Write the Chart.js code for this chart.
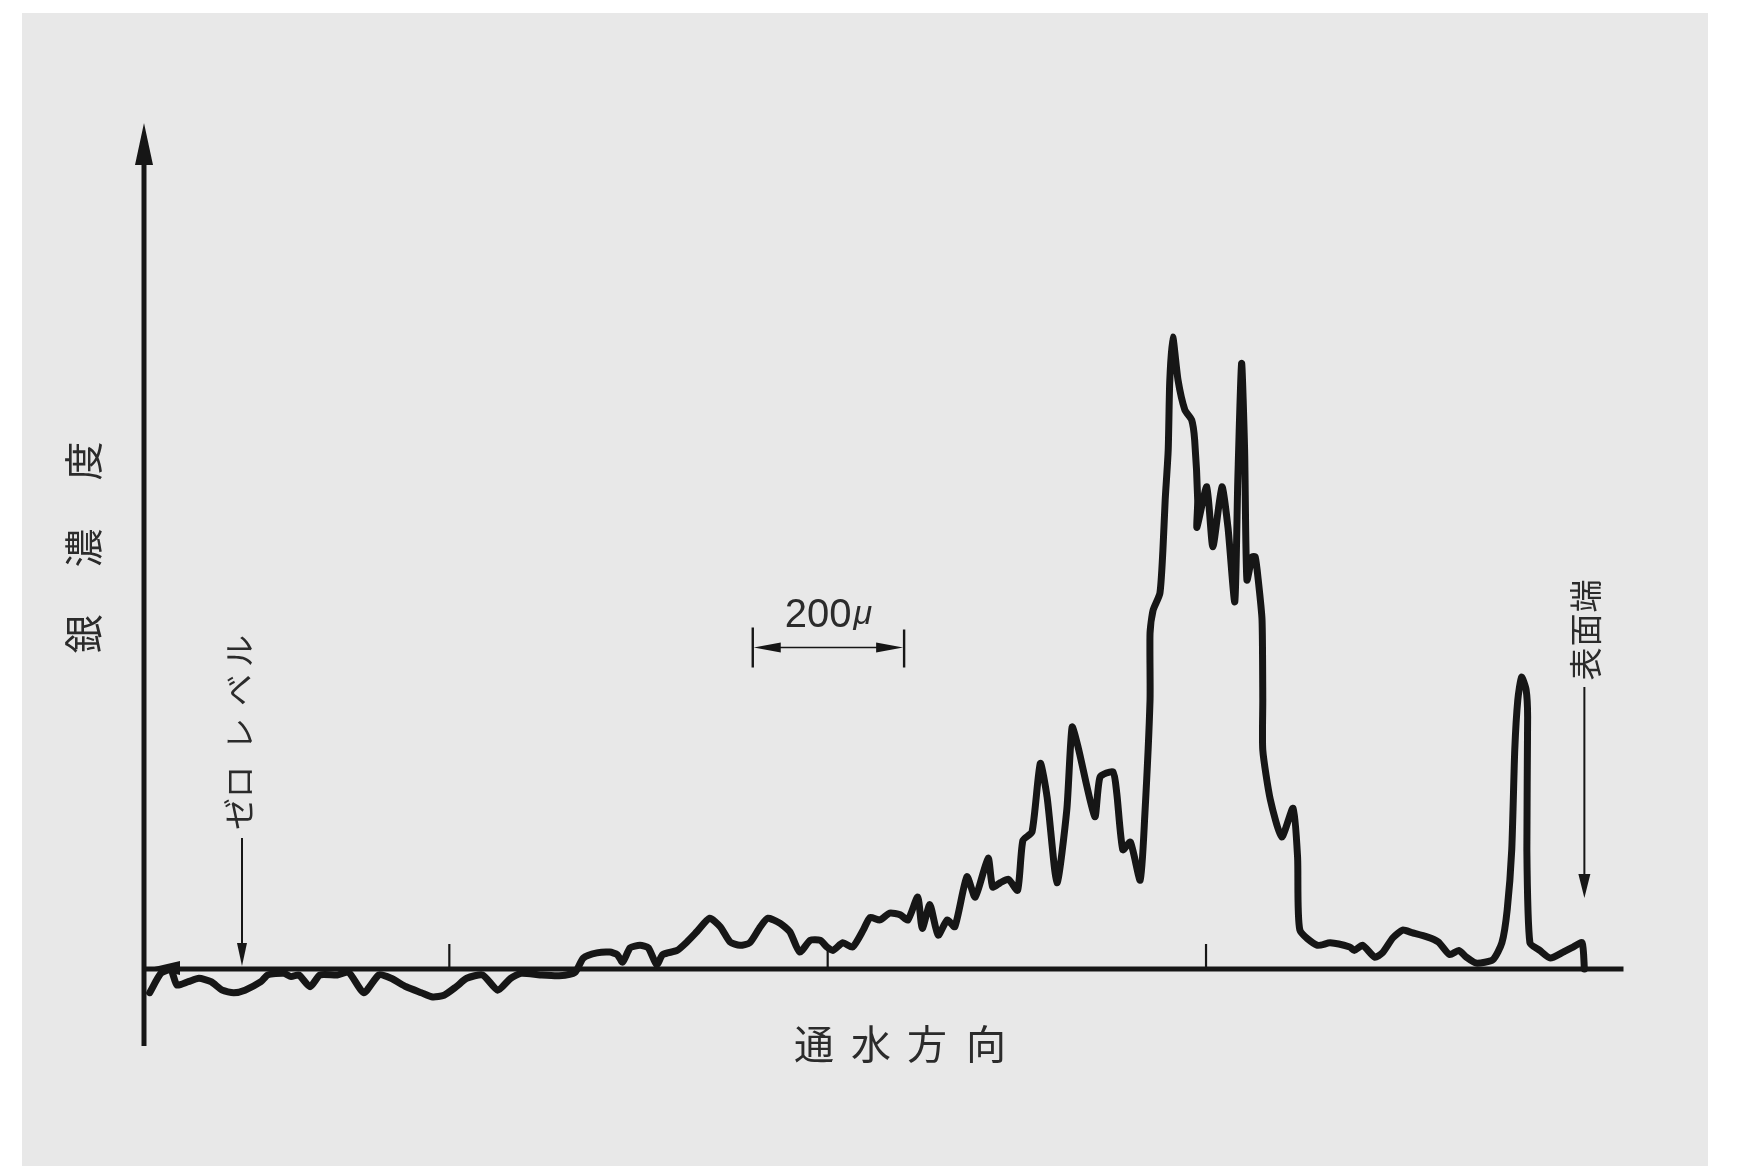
<!DOCTYPE html>
<html lang="ja">
<head>
<meta charset="utf-8">
<title>銀濃度 — 通水方向</title>
<script src="https://cdn.jsdelivr.net/npm/chart.js@4/dist/chart.umd.min.js"></script>
<style>
  html, body { margin: 0; padding: 0; background: #ffffff; }
  #wrap { width: 1737px; height: 1166px; }
  canvas { display: block; }
</style>
</head>
<body>
<div id="wrap"><canvas id="c" width="1737" height="1166"></canvas></div>
<script>
// Position along the flow direction (μm) and relative silver density of the scan trace.
const positions = [
  104, 119, 132, 140, 155, 169, 185, 200, 215, 230, 251, 260, 281, 291, 301, 316, 329, 352, 367, 387,
  407, 423, 443, 463, 478, 493, 509, 523, 544, 564, 581, 595, 620, 645, 666, 677, 695, 712, 722, 729,
  739, 752, 763, 774, 782, 801, 814, 827, 844, 858, 871, 884, 897, 911, 921, 937, 950, 963, 977, 990,
  999, 1007, 1020, 1033, 1047, 1056, 1069, 1082, 1096, 1106, 1119, 1125, 1135, 1146, 1158, 1168, 1184, 1195, 1212, 1218,
  1228, 1239, 1251, 1258, 1270, 1281, 1290, 1303, 1316, 1323, 1331, 1353, 1360, 1377, 1382, 1390, 1400, 1413, 1419, 1426,
  1426, 1430, 1439, 1443, 1446, 1450, 1452, 1456, 1463, 1472, 1481, 1485, 1489, 1488, 1501, 1509, 1521, 1529, 1538, 1542,
  1547, 1551, 1554, 1561, 1565, 1569, 1574, 1575, 1575, 1585, 1600, 1615, 1621, 1624, 1647, 1664, 1690, 1696, 1707, 1723,
  1733, 1747, 1760, 1772, 1792, 1807, 1822, 1834, 1844, 1857, 1879, 1891, 1898, 1904, 1908, 1912, 1917, 1923, 1925, 1924,
  1928, 1941, 1955, 1972, 1985, 1997, 2000
];
const density = [
  -2.8, -0.5, -0.1, -1.9, -1.5, -1.1, -1.5, -2.5, -2.8, -2.5, -1.5, -0.7, -0.5, -0.9, -0.7, -2.1, -0.7, -0.7, -0.4, -2.8,
  -0.7, -1.1, -2.1, -2.8, -3.3, -3.1, -2.1, -1.1, -0.7, -2.5, -1.1, -0.5, -0.7, -0.8, -0.4, 1.3, 1.9, 2.0, 1.7, 0.8,
  2.5, 2.8, 2.5, 0.5, 1.7, 2.2, 3.2, 4.4, 6.0, 5.0, 3.2, 2.8, 3.1, 5.0, 6.0, 5.4, 4.4, 2.0, 3.4, 3.4,
  2.6, 2.2, 3.1, 2.6, 4.6, 6.1, 5.8, 6.6, 6.4, 5.8, 8.5, 4.8, 7.6, 4.0, 5.8, 5.0, 10.9, 8.5, 13.1, 9.7,
  10.2, 10.6, 9.3, 15.2, 16.2, 24.3, 20.3, 10.2, 18.8, 28.6, 26.2, 18.0, 22.7, 23.3, 20.8, 14.1, 15.0, 10.5, 18.0, 31.8,
  39.7, 42.4, 44.4, 49.5, 55.4, 61.3, 69.3, 74.7, 69.6, 66.1, 64.9, 62.5, 55.4, 52.2, 57.0, 49.9, 57.0, 52.2, 43.4, 57.8,
  71.6, 61.3, 46.0, 48.7, 48.7, 46.0, 41.3, 31.8, 25.9, 20.0, 15.6, 19.0, 13.2, 4.6, 2.8, 3.1, 2.6, 2.2, 2.8, 1.4,
  1.9, 3.7, 4.6, 4.3, 3.8, 3.2, 1.7, 2.2, 1.4, 0.7, 1.1, 3.1, 7.0, 14.1, 25.9, 31.8, 34.5, 33.0, 29.8, 14.1,
  3.1, 2.2, 1.3, 2.0, 2.6, 3.1, 0
];
// Tick marks on the flow axis (μm)
const tickPositions = [500, 1000, 1500];
// Marker positions (μm): zero-level arrow, surface end, 200 μ scale bar
const zeroLevelAt = [226];
const surfaceAt = [2000];
const scaleBar = [901, 1101];
const scaleBarLevel = [38];

const INK = '#161616';
const TEXT = '#2b2b2b';
const JP = '"Noto Sans CJK JP", "Noto Sans", sans-serif';

const points = positions.map((x, i) => ({ x: x, y: density[i] }));

function tri(ctx, ax, ay, bx, by, cx, cy) {
  ctx.beginPath();
  ctx.moveTo(ax, ay); ctx.lineTo(bx, by); ctx.lineTo(cx, cy);
  ctx.closePath(); ctx.fill();
}

function vChar(ctx, ch, cx, cy, size) {
  ctx.save();
  ctx.translate(cx, cy);
  ctx.rotate(-Math.PI / 2);
  ctx.font = size + 'px ' + JP;
  ctx.textAlign = 'center';
  ctx.textBaseline = 'middle';
  ctx.fillText(ch, 0, 0);
  ctx.restore();
}

// Paper background
const paper = {
  id: 'paper',
  beforeDraw(chart) {
    const ctx = chart.ctx;
    ctx.save();
    ctx.fillStyle = '#ffffff';
    ctx.fillRect(0, 0, chart.width, chart.height);
    ctx.fillStyle = '#e8e8e8';
    ctx.fillRect(22, 13, 1686, chart.height - 13);
    ctx.restore();
  }
};

// Axes with arrowheads and tick marks, placed through the chart scales
const axes = {
  id: 'axes',
  beforeDatasetsDraw(chart) {
    const ctx = chart.ctx;
    const xs = chart.scales.x, ys = chart.scales.y;
    const a = chart.chartArea;
    const y0 = ys.getPixelForValue(0);
    ctx.save();
    ctx.strokeStyle = INK;
    ctx.fillStyle = INK;
    ctx.lineCap = 'butt';
    // vertical axis
    ctx.lineWidth = 5;
    ctx.beginPath();
    ctx.moveTo(a.left, a.bottom);
    ctx.lineTo(a.left, a.top + 30);
    ctx.stroke();
    tri(ctx, a.left, a.top, a.left - 9, a.top + 42, a.left + 9, a.top + 42);
    // horizontal axis at zero level
    ctx.lineWidth = 5;
    ctx.beginPath();
    ctx.moveTo(a.left, y0);
    ctx.lineTo(a.right, y0);
    ctx.stroke();
    tri(ctx, a.left + 6, y0 - 1, a.left + 36, y0 - 8, a.left + 36, y0 + 6);
    // ticks
    ctx.lineWidth = 2.2;
    tickPositions.forEach(v => {
      const px = xs.getPixelForValue(v);
      ctx.beginPath();
      ctx.moveTo(px, y0);
      ctx.lineTo(px, y0 - 25);
      ctx.stroke();
    });
    ctx.restore();
  }
};

// Labels, leader arrows and the scale bar
const labels = {
  id: 'labels',
  afterDatasetsDraw(chart) {
    const ctx = chart.ctx;
    const xs = chart.scales.x, ys = chart.scales.y;
    const y0 = ys.getPixelForValue(0);
    ctx.save();
    ctx.fillStyle = TEXT;

    // vertical axis title
    [['銀', 634], ['濃', 548], ['度', 461]].forEach(([c, y]) => vChar(ctx, c, 83, y, 39));

    // horizontal axis title
    ctx.font = '40px ' + JP;
    ctx.textAlign = 'center';
    ctx.textBaseline = 'middle';
    [['通', 814], ['水', 871], ['方', 927], ['向', 986]].forEach(([c, x]) => ctx.fillText(c, x, 1044));

    // zero level leader
    const zx = xs.getPixelForValue(zeroLevelAt[0]);
    [['ゼ', 814], ['ロ', 782], ['レ', 734], ['ベ', 690], ['ル', 651]].forEach(([c, y]) => vChar(ctx, c, zx - 3, y, 32));
    ctx.strokeStyle = INK;
    ctx.fillStyle = INK;
    ctx.lineWidth = 2;
    ctx.beginPath();
    ctx.moveTo(zx, 838);
    ctx.lineTo(zx, y0 - 18);
    ctx.stroke();
    tri(ctx, zx, y0 - 3, zx - 5, y0 - 26, zx + 5, y0 - 26);

    // surface end leader
    const sx = xs.getPixelForValue(surfaceAt[0]);
    ctx.fillStyle = TEXT;
    [['表', 664], ['面', 630], ['端', 596]].forEach(([c, y]) => vChar(ctx, c, sx + 1, y, 33));
    ctx.fillStyle = INK;
    ctx.beginPath();
    ctx.moveTo(sx, 687);
    ctx.lineTo(sx, 880);
    ctx.stroke();
    tri(ctx, sx, 898, sx - 6, 874, sx + 6, 874);

    // 200 μ scale bar
    const b0 = xs.getPixelForValue(scaleBar[0]);
    const b1 = xs.getPixelForValue(scaleBar[1]);
    const by = ys.getPixelForValue(scaleBarLevel[0]);
    ctx.lineWidth = 2.4;
    ctx.beginPath();
    ctx.moveTo(b0, by - 20); ctx.lineTo(b0, by + 20);
    ctx.moveTo(b1, by - 18); ctx.lineTo(b1, by + 20);
    ctx.stroke();
    ctx.lineWidth = 1.6;
    ctx.beginPath();
    ctx.moveTo(b0 + 20, by); ctx.lineTo(b1 - 20, by);
    ctx.stroke();
    tri(ctx, b0 + 1, by, b0 + 28, by - 5, b0 + 28, by + 5);
    tri(ctx, b1 - 1, by, b1 - 28, by - 5, b1 - 28, by + 5);

    ctx.fillStyle = TEXT;
    ctx.textBaseline = 'alphabetic';
    ctx.textAlign = 'left';
    ctx.font = '40px "Liberation Sans", Arial, sans-serif';
    const numW = ctx.measureText('200').width;
    ctx.font = 'italic 34px "Liberation Sans", Arial, sans-serif';
    const muW = ctx.measureText('μ').width;
    const startX = (b0 + b1) / 2 - (numW + 2 + muW) / 2;
    ctx.font = '40px "Liberation Sans", Arial, sans-serif';
    ctx.fillText('200', startX, by - 21);
    ctx.font = 'italic 34px "Liberation Sans", Arial, sans-serif';
    ctx.fillText('μ', startX + numW + 2, by - 24);
    ctx.restore();
  }
};

new Chart(document.getElementById('c'), {
  type: 'line',
  data: {
    datasets: [{
      data: points,
      borderColor: INK,
      borderWidth: 7,
      tension: 0.2,
      borderJoinStyle: 'round',
      borderCapStyle: 'round',
      pointRadius: 0,
      fill: false
    }]
  },
  options: {
    responsive: false,
    animation: false,
    devicePixelRatio: 1,
    layout: { padding: { left: 144, right: 113.5, top: 123, bottom: 120 } },
    scales: {
      x: { type: 'linear', display: false, min: 96.5, max: 2051.7 },
      y: { type: 'linear', display: false, min: -9.1, max: 100 }
    },
    plugins: {
      legend: { display: false },
      tooltip: { enabled: false }
    }
  },
  plugins: [paper, axes, labels]
});
</script>
</body>
</html>
